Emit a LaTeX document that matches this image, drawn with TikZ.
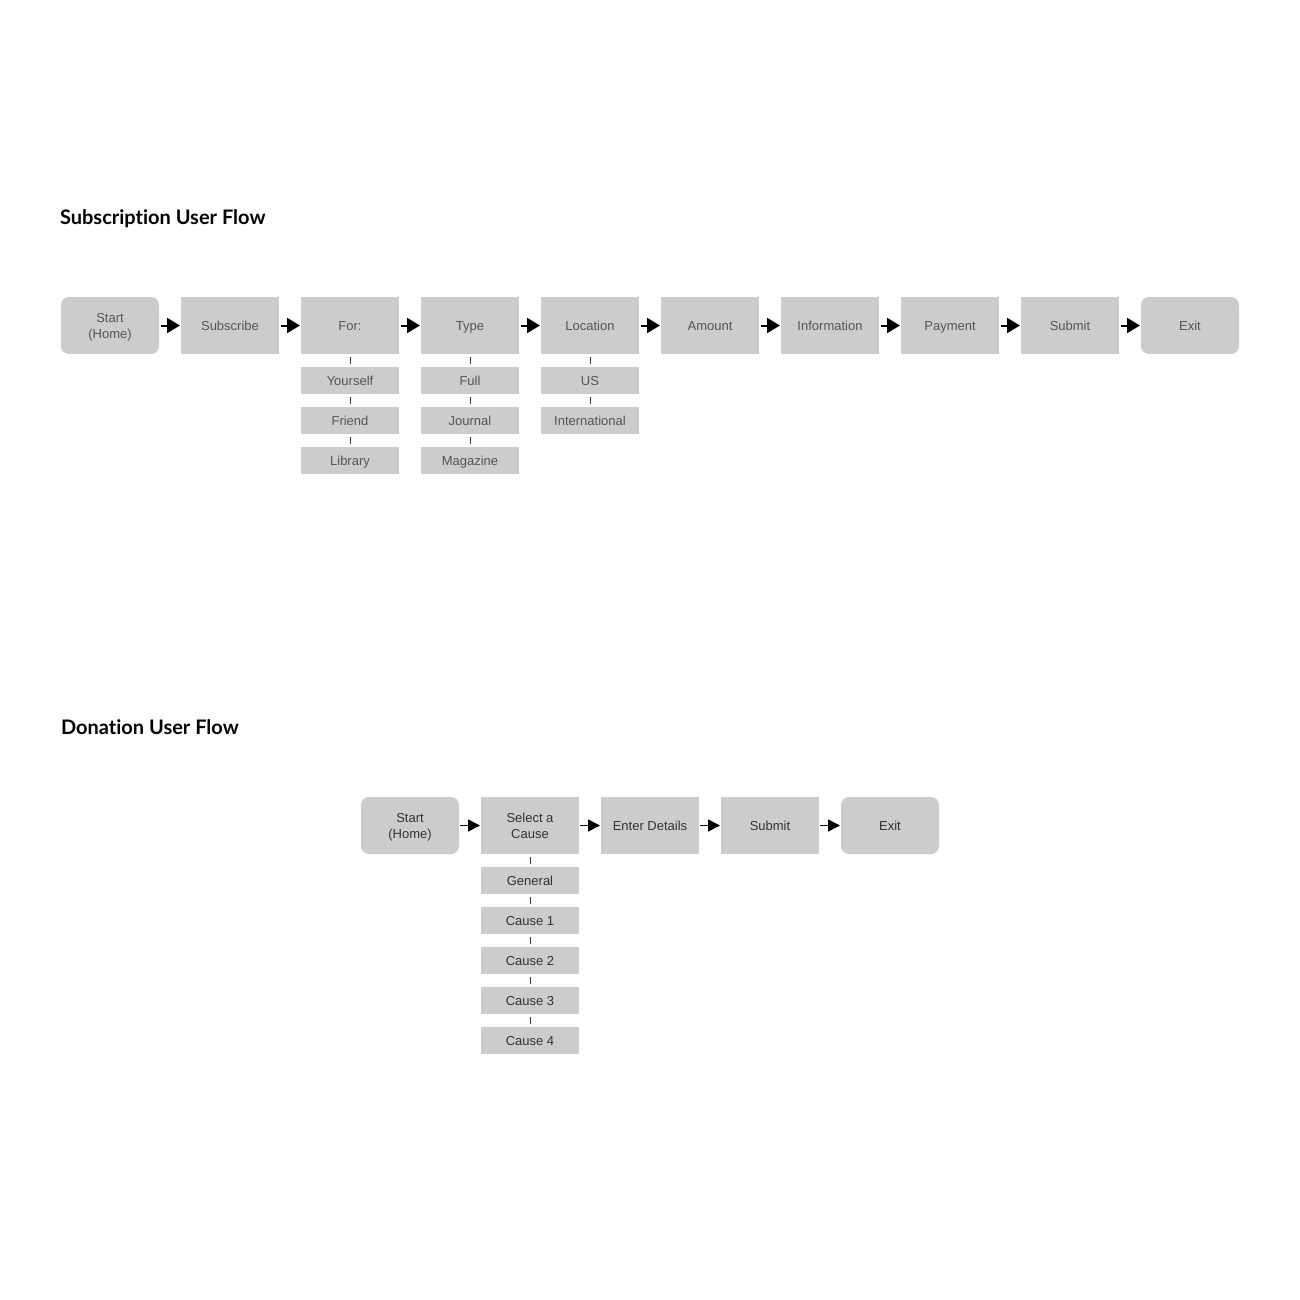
\documentclass[tikz,border=0pt]{standalone}
\usepackage{fontspec}
\setmainfont{Liberation Sans}
\newfontfamily\titlefont{Lato}[Ligatures=NoCommon]
\usepackage{tikz}
\usetikzlibrary{arrows.meta}
\usetikzlibrary{positioning}
\definecolor{boxgray}{HTML}{CCCCCC}
\definecolor{txtgray}{HTML}{555555}
\definecolor{txtdark}{HTML}{333333}

\begin{document}
\begin{tikzpicture}[x=1pt,y=-1pt,node distance=13pt and 22pt,
  every node/.style={inner sep=0pt,outer sep=0pt,font=\fontsize{13}{16}\selectfont},
  box/.style={fill=boxgray,minimum width=98pt,minimum height=57pt,align=center,text height=12pt,text depth=3pt},
  twoline/.style={text height=28pt,text depth=3pt},
  endbox/.style={box,rounded corners=8pt},
  opt/.style={fill=boxgray,minimum width=98pt,minimum height=27pt,text height=12pt,text depth=3pt},
  flow/.style={-{Triangle[length=13pt,width=15pt]},line width=2pt,shorten <=2pt,shorten >=1pt},
  flowsm/.style={-{Triangle[length=12pt,width=12pt]},line width=1.5pt,shorten <=1pt,shorten >=1pt},
  tick/.style={draw=txtdark,line width=1pt,shorten <=3pt,shorten >=3pt},
  title/.style={anchor=base west,font=\titlefont\bfseries\fontsize{20}{24}\selectfont}]
\fill[white] (0,0) rectangle (1300,1300);
\useasboundingbox (0,0) rectangle (1300,1300);
%
\node (subtitle) [title] at (60,224) {Subscription User Flow};
\node (dontitle) [title] at (61,734) {Donation User Flow};
%
\begin{scope}[every node/.append style={text=txtgray}]
\node (s0) [endbox,twoline] at (110,325.5) {Start\\(Home)};
\node (s1) [box,right=of s0] {Subscribe};
\node (s2) [box,right=of s1] {For:};
\node (s3) [box,right=of s2] {Type};
\node (s4) [box,right=of s3] {Location};
\node (s5) [box,right=of s4] {Amount};
\node (s6) [box,right=of s5] {Information};
\node (s7) [box,right=of s6] {Payment};
\node (s8) [box,right=of s7] {Submit};
\node (s9) [endbox,right=of s8] {Exit};
%
\node (for1) [opt,below=of s2] {Yourself};
\node (for2) [opt,below=of for1] {Friend};
\node (for3) [opt,below=of for2] {Library};
\node (type1) [opt,below=of s3] {Full};
\node (type2) [opt,below=of type1] {Journal};
\node (type3) [opt,below=of type2] {Magazine};
\node (loc1) [opt,below=of s4] {US};
\node (loc2) [opt,below=of loc1] {International};
\end{scope}
%
\foreach \a/\b in {s0/s1,s1/s2,s2/s3,s3/s4,s4/s5,s5/s6,s6/s7,s7/s8,s8/s9}
  \draw[flow] (\a) -- (\b);
%
\foreach \a/\b in {s2/for1,for1/for2,for2/for3,s3/type1,type1/type2,type2/type3,s4/loc1,loc1/loc2}
  \draw[tick] (\a) -- (\b);
%
\begin{scope}[every node/.append style={text=txtdark}]
\node (d0) [endbox,twoline] at (410,825.5) {Start\\(Home)};
\node (d1) [box,twoline,right=of d0] {Select a\\Cause};
\node (d2) [box,right=of d1] {Enter Details};
\node (d3) [box,right=of d2] {Submit};
\node (d4) [endbox,right=of d3] {Exit};
%
\node (c0) [opt,below=of d1] {General};
\node (c1) [opt,below=of c0] {Cause 1};
\node (c2) [opt,below=of c1] {Cause 2};
\node (c3) [opt,below=of c2] {Cause 3};
\node (c4) [opt,below=of c3] {Cause 4};
\end{scope}
%
\foreach \a/\b in {d0/d1,d1/d2,d2/d3,d3/d4}
  \draw[flowsm] (\a) -- (\b);
%
\foreach \a/\b in {d1/c0,c0/c1,c1/c2,c2/c3,c3/c4}
  \draw[tick] (\a) -- (\b);
%
\end{tikzpicture}
\end{document}
